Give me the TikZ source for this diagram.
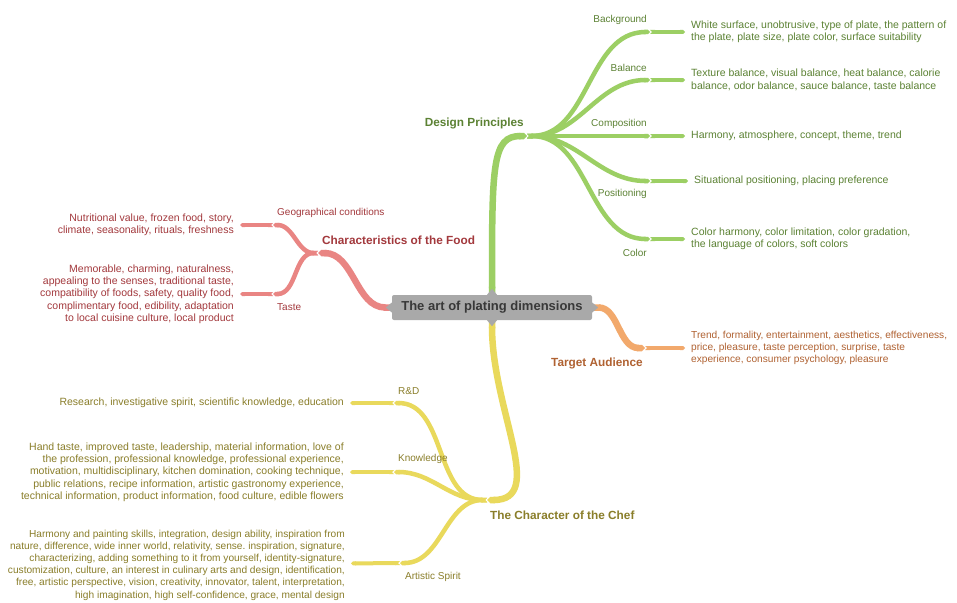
\documentclass[tikz,border=0pt]{standalone}
\usepackage{fontspec}
\setmainfont{Liberation Sans}
\frenchspacing
\usetikzlibrary{arrows.meta}
\definecolor{greenline}{HTML}{9CCF64}
\definecolor{greentext}{HTML}{5C8234}
\definecolor{redline}{HTML}{E98583}
\definecolor{redtext}{HTML}{A3393D}
\definecolor{orangeline}{HTML}{F2A96C}
\definecolor{orangetext}{HTML}{B06232}
\definecolor{yellowline}{HTML}{E9D95C}
\definecolor{yellowtext}{HTML}{8A7E2A}
\definecolor{rootfill}{HTML}{A9A9A9}

\begin{document}
\begin{tikzpicture}[x=1pt,y=-1pt,
        mainline/.style={draw=#1,line width=6.5pt,arrows={Triangle Cap[reversed]-Triangle Cap}},
        subline/.style={draw=#1,line width=4.5pt,arrows={Triangle Cap[reversed]-Triangle Cap}},
        leafline/.style={draw=#1,line width=4pt,arrows={Triangle Cap[reversed]-Triangle Cap}},
        rootbox/.style={fill=rootfill,text=black!78,rounded corners=2pt,minimum width=200pt,minimum height=25pt,inner sep=0pt,font=\fontsize{13}{15}\selectfont\bfseries},
        mainlabel/.style={text=#1,inner sep=0pt,font=\fontsize{11.8}{14}\selectfont\bfseries},
        sublabel/.style={text=#1,inner sep=0pt,font=\fontsize{10}{12}\selectfont},
        leaf/.style={text=#1,inner xsep=6pt,inner ysep=0pt,font=\fontsize{10.5}{12.3}\selectfont},
        smallleaf/.style={leaf=#1,font=\fontsize{10.15}{12.2}\selectfont}]
        \path[use as bounding box,fill=white] (0,0) rectangle (957,602);
        \node[rootbox] (root) at (492,307.5) {The art of plating dimensions};

        \coordinate (dp) at (527,136);
        \coordinate (bg) at (650,32);
        \coordinate (bal) at (650,80);
        \coordinate (comp) at (650,136);
        \coordinate (pos) at (650,181);
        \coordinate (col) at (650,239);
        \coordinate (cf) at (318,253);
        \coordinate (geo) at (273,225);
        \coordinate (taste) at (273,294);
        \coordinate (ta) at (645,348);
        \coordinate (cc) at (487,500);
        \coordinate (rd) at (394,403);
        \coordinate (know) at (394,472);
        \coordinate (art) at (400,563);

        \node[leaf=greentext,anchor=west,align=left] (bgleaf) at (685,32) {White surface, unobtrusive, type of plate, the pattern of\\the plate, plate size, plate color, surface suitability};
        \node[leaf=greentext,anchor=west,align=left] (balleaf) at (685,80) {Texture balance, visual balance, heat balance, calorie\\balance, odor balance, sauce balance, taste balance};
        \node[leaf=greentext,anchor=west] (compleaf) at (685,136) {Harmony, atmosphere, concept, theme, trend};
        \node[leaf=greentext,anchor=west] (posleaf) at (688,181) {Situational positioning, placing preference};
        \node[leaf=greentext,anchor=west,align=left] (colleaf) at (685,239) {Color harmony, color limitation, color gradation,\\the language of colors, soft colors};
        \node[leaf=redtext,anchor=east,align=right] (geoleaf) at (240,225) {Nutritional value, frozen food, story,\\climate, seasonality, rituals, freshness};
        \node[leaf=redtext,anchor=east,align=right] (tasteleaf) at (240,294) {Memorable, charming, naturalness,\\appealing to the senses, traditional taste,\\compatibility of foods, safety, quality food,\\complimentary food, edibility, adaptation\\to local cuisine culture, local product};
        \node[smallleaf=orangetext,anchor=west,align=left] (taleaf) at (685,348) {Trend, formality, entertainment, aesthetics, effectiveness,\\price, pleasure, taste perception, surprise, taste\\experience, consumer psychology, pleasure};
        \node[leaf=yellowtext,anchor=east] (rdleaf) at (350,403) {Research, investigative spirit, scientific knowledge, education};
        \node[leaf=yellowtext,anchor=east,align=right] (knowleaf) at (350,472) {Hand taste, improved taste, leadership, material information, love of\\the profession, professional knowledge, professional experience,\\motivation, multidisciplinary, kitchen domination, cooking technique,\\public relations, recipe information, artistic gastronomy experience,\\technical information, product information, food culture, edible flowers};
        \node[smallleaf=yellowtext,anchor=east,align=right] (artleaf) at (351,565) {Harmony and painting skills, integration, design ability, inspiration from\\nature, difference, wide inner world, relativity, sense. inspiration, signature,\\characterizing, adding something to it from yourself, identity-signature,\\customization, culture, an interest in culinary arts and design, identification,\\free, artistic perspective, vision, creativity, innovator, talent, interpretation,\\high imagination, high self-confidence, grace, mental design};

        \draw[mainline=greenline] (root.north) to[out=90,in=180,out distance=130pt,in distance=35pt] (dp);
        \draw[subline=greenline] (dp) to[out=0,in=180] (bg);
        \draw[subline=greenline] (dp) to[out=0,in=180] (bal);
        \draw[subline=greenline] (dp) -- (comp);
        \draw[subline=greenline] (dp) to[out=0,in=180] (pos);
        \draw[subline=greenline] (dp) to[out=0,in=180] (col);
        \draw[leafline=greenline] (bg) -- (bgleaf);
        \draw[leafline=greenline] (bal) -- (balleaf);
        \draw[leafline=greenline] (comp) -- (compleaf);
        \draw[leafline=greenline] (pos) -- (posleaf);
        \draw[leafline=greenline] (col) -- (colleaf);

        \draw[mainline=redline] (root.west) to[out=180,in=0] (cf);
        \draw[subline=redline] (cf) to[out=180,in=0] (geo);
        \draw[subline=redline] (cf) to[out=180,in=0] (taste);
        \draw[leafline=redline] (geo) -- (geoleaf);
        \draw[leafline=redline] (taste) -- (tasteleaf);

        \draw[mainline=orangeline] (root.east) to[out=0,in=180] (ta);
        \draw[leafline=orangeline] (ta) -- (taleaf);

        \draw[mainline=yellowline] (root.south) to[out=-90,in=0,out distance=90pt,in distance=60pt] (cc);
        \draw[subline=yellowline] (cc) to[out=180,in=0] (rd);
        \draw[subline=yellowline] (cc) to[out=180,in=0] (know);
        \draw[subline=yellowline] (cc) to[out=180,in=0] (art);
        \draw[leafline=yellowline] (rd) -- (rdleaf);
        \draw[leafline=yellowline] (know) -- (knowleaf);
        \draw[leafline=yellowline] (art) -- (artleaf);

        \foreach \side/\ang in {north/90,south/-90,east/0,west/180}
            \fill[rootfill,shift={(root.\side)},rotate=\ang] (0,-5) -- (6,0) -- (0,5) -- cycle;

        \node[mainlabel=greentext,anchor=east] (dplabel) at (524,123) {Design Principles};
        \node[mainlabel=redtext,anchor=west] (cflabel) at (322,240) {Characteristics of the Food};
        \node[mainlabel=orangetext,anchor=east] (talabel) at (643,363) {Target Audience};
        \node[mainlabel=yellowtext,anchor=west] (cclabel) at (490,515) {The Character of the Chef};

        \node[sublabel=greentext,anchor=east] (bglabel) at (647,20) {Background};
        \node[sublabel=greentext,anchor=east] (ballabel) at (647,68) {Balance};
        \node[sublabel=greentext,anchor=east] (complabel) at (647,124) {Composition};
        \node[sublabel=greentext,anchor=east] (poslabel) at (647,194) {Positioning};
        \node[sublabel=greentext,anchor=east] (collabel) at (647,253) {Color};
        \node[sublabel=redtext,anchor=west] (geolabel) at (277,213) {Geographical conditions};
        \node[sublabel=redtext,anchor=west] (tastelabel) at (277,307) {Taste};
        \node[sublabel=yellowtext,anchor=west] (rdlabel) at (398,391) {R\&D};
        \node[sublabel=yellowtext,anchor=west] (knowlabel) at (398,459) {Knowledge};
        \node[sublabel=yellowtext,anchor=west] (artlabel) at (405,577) {Artistic Spirit};
    \end{tikzpicture}
\end{document}
